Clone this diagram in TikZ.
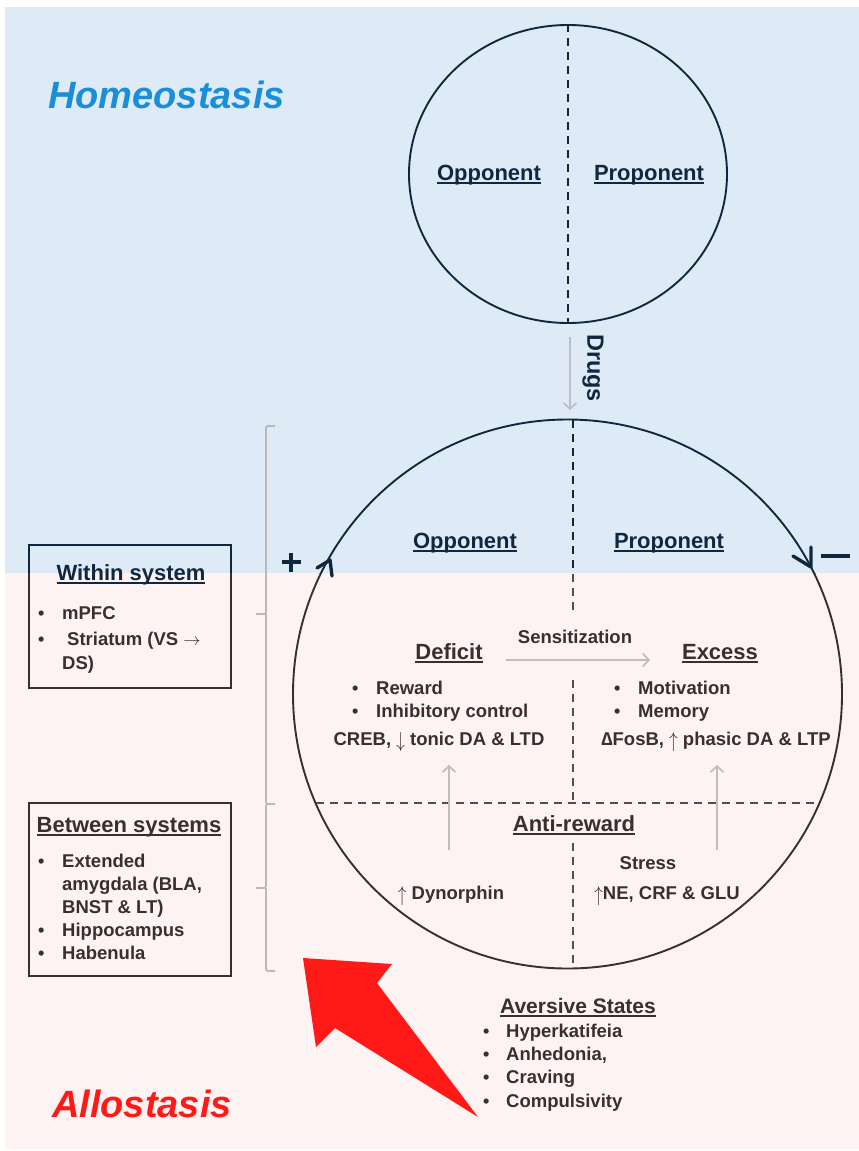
\documentclass[tikz,border=0pt]{standalone}
\usepackage{fontspec}
\setmainfont{Liberation Sans}
\usetikzlibrary{arrows.meta,shapes.geometric}
\definecolor{navy}{HTML}{10283F}
\definecolor{brn}{HTML}{3A2E2E}
\definecolor{dashbrn}{HTML}{5B4A45}
\definecolor{bgblue}{HTML}{DEEBF7}
\definecolor{bgpink}{HTML}{FCF3F2}
\definecolor{garrow}{HTML}{BFBDBD}
\definecolor{gbrace}{HTML}{BDB7B6}
\definecolor{homeblue}{HTML}{1A8ED6}
\definecolor{allored}{HTML}{FF1A17}
\newcommand{\myul}[1]{\setbox0\hbox{#1}\rlap{\rule[-0.19em]{\wd0}{0.085em}}\box0}
\newcommand{\upar}{\raisebox{-0.12em}{\scalebox{1}[1.25]{$\uparrow$}}}
\newcommand{\dnar}{\raisebox{-0.12em}{\scalebox{1}[1.25]{$\downarrow$}}}
\tikzset{
  bigtitle/.style={font=\fontsize{38}{44}\selectfont\bfseries\itshape, inner sep=0pt, anchor=base west},
  hdr/.style={font=\fontsize{22}{26}\selectfont\bfseries, inner sep=0pt, anchor=base},
  bod/.style={font=\fontsize{18.5}{22}\selectfont\bfseries, inner sep=0pt, anchor=base west},
  bodc/.style={font=\fontsize{18.5}{22}\selectfont\bfseries, inner sep=0pt, anchor=base},
  bul/.style={font=\fontsize{18}{20}\selectfont\bfseries, inner sep=0pt, anchor=base west},
  ringline/.style={line width=1.9pt},
  divdash/.style={line width=1.8pt, dash pattern=on 8pt off 6pt},
  grayarrow/.style={draw=garrow, line width=1.7pt, -{Straight Barb[length=6pt,width=13pt,line width=1.7pt]}},
  brace/.style={draw=gbrace, line width=1.8pt, rounded corners=2pt},
  tipmark/.style={line width=3.4pt, line cap=round, line join=round},
  infobox/.style={line width=2pt},
  signbar/.style={navy, line width=4.2pt}
}
\begin{document}
\begin{tikzpicture}[x=1pt,y=-1pt]
\useasboundingbox (0,0) rectangle (859,1151);
% backgrounds
\fill[bgblue] (5,7) rectangle (859,573);
\fill[bgpink] (5,573) rectangle (859,1149);

% titles
\node[bigtitle, text=homeblue] (homeo) at (48,108.5) {Homeostasis};
\node[bigtitle, text=allored] (allo) at (52,1117) {Allostasis};

% top circle
\node[draw=navy, ringline, ellipse, minimum width=318pt, minimum height=298pt, inner sep=0pt] (topc) at (568,174) {};
\draw[navy, divdash] (topc.north) -- (topc.south);
\node[hdr, text=navy] (topopp) at (489,180) {\myul{Opponent}};
\node[hdr, text=navy] (toppro) at (649,180) {\myul{Proponent}};

% drugs
\coordinate (drugsA) at (570,337);
\coordinate (drugsB) at (570,410);
\draw[grayarrow] (drugsA) -- (drugsB);
\node[font=\fontsize{23.5}{26}\selectfont\bfseries, text=navy, rotate=-90, inner sep=0pt] (drugs) at (593,368) {Drugs};

% big circle
\node[circle, minimum size=549pt, inner sep=0pt] (bigc) at (567.5,694) {};
\begin{scope}
  \clip (0,0) rectangle (859,573);
  \draw[navy, ringline] (bigc.center) circle[radius=274.5];
\end{scope}
\begin{scope}
  \clip (0,573) rectangle (859,1151);
  \draw[brn, ringline] (bigc.center) circle[radius=274.5];
\end{scope}

% arrow marks on the circle
\coordinate (lw1) at (317,568);
\coordinate (ltip) at (330,560);
\coordinate (lw2) at (332,576);
\draw[navy, tipmark] (lw1) -- (ltip) -- (lw2);
\coordinate (rw1) at (793,556);
\coordinate (rtip) at (811,567);
\coordinate (rw2) at (811,547);
\draw[navy, tipmark] (rw1) -- (rtip) -- (rw2);
% plus and minus signs
\coordinate (plusC) at (291,562);
\draw[signbar] ([xshift=-9.5pt]plusC) -- ([xshift=9.5pt]plusC);
\draw[signbar] ([yshift=-9.5pt]plusC) -- ([yshift=9.5pt]plusC);
\coordinate (minusA) at (821,556);
\coordinate (minusB) at (850,556);
\draw[signbar] (minusA) -- (minusB);

% dashed dividers in big circle
\coordinate (d1) at (573,420);
\coordinate (d2) at (573,613);
\coordinate (d3) at (573,680);
\coordinate (d4) at (573,803);
\coordinate (d5) at (573,843);
\coordinate (d6) at (573,968);
\begin{scope}
  \clip (0,0) rectangle (859,573);
  \draw[navy, divdash] (d1) -- (d2);
\end{scope}
\begin{scope}
  \clip (0,573) rectangle (859,1151);
  \draw[dashbrn, divdash] (d1) -- (d2);
\end{scope}
\draw[dashbrn, divdash] (d3) -- (d4);
\draw[dashbrn, divdash] (d5) -- (d6);
\coordinate (h1) at (316,803);
\coordinate (h2) at (819,803);
\draw[dashbrn, divdash] (h1) -- (h2);

% big circle texts
\node[hdr, text=navy] (opp) at (465,548) {\myul{Opponent}};
\node[hdr, text=navy] (pro) at (669,548) {\myul{Proponent}};
\node[hdr, text=brn] (deficit) at (449,659) {\myul{Deficit}};
\node[hdr, text=brn] (excess) at (720,659) {\myul{Excess}};
\node[bodc, text=brn] (sens) at (575,643) {Sensitization};
\coordinate (sensA) at (506,660);
\coordinate (sensB) at (650,660);
\draw[grayarrow] (sensA) -- (sensB);

\node[bul, text=brn] (b1) at (352,694) {•};
\node[bod, text=brn] (reward) at (376,694) {Reward};
\node[bul, text=brn] (b2) at (352,717) {•};
\node[bod, text=brn] (inhib) at (376,717) {Inhibitory control};
\node[bodc, text=brn] (creb) at (439,745) {CREB, \dnar{} tonic DA \& LTD};

\node[bul, text=brn] (b3) at (614,694) {•};
\node[bod, text=brn] (motiv) at (638,694) {Motivation};
\node[bul, text=brn] (b4) at (614,717) {•};
\node[bod, text=brn] (memory) at (638,717) {Memory};
\node[bodc, text=brn] (fosb) at (716,745) {∆FosB, \upar{} phasic DA \& LTP};

\coordinate (uaA) at (449,850);
\coordinate (uaB) at (449,765);
\draw[grayarrow] (uaA) -- (uaB);
\coordinate (ubA) at (717,850);
\coordinate (ubB) at (717,765);
\draw[grayarrow] (ubA) -- (ubB);

\node[hdr, text=brn] (anti) at (574,831) {\myul{Anti-reward}};
\node[bodc, text=brn] (stress) at (648,869) {Stress};
\node[bodc, text=brn] (dyn) at (451,899) {\upar{} Dynorphin};
\node[bodc, text=brn] (ne) at (667,899) {\upar{}NE, CRF \& GLU};

% braces
\draw[brace] (275,426) -- (266,426) -- (266,614) coordinate (br1mid) -- (256,614);
\draw[brace] (br1mid) -- (266,804) -- (275,804);
\draw[brace] (275,804) -- (266,804) -- (266,888) coordinate (br2mid) -- (256,888);
\draw[brace] (br2mid) -- (266,971) -- (275,971);

% within system box
\coordinate (wb1) at (29,545);
\coordinate (wb2) at (231,688);
\begin{scope}
  \clip (0,0) rectangle (859,573);
  \draw[navy, infobox] (wb1) rectangle (wb2);
\end{scope}
\begin{scope}
  \clip (0,573) rectangle (859,1151);
  \draw[brn, infobox] (wb1) rectangle (wb2);
\end{scope}
\node[hdr, text=navy] (within) at (131,580) {\myul{Within system}};
\node[bul, text=brn] (b5) at (38,619) {•};
\node[bod, text=brn] (mpfc) at (62,619) {mPFC};
\node[bul, text=brn] (b6) at (38,645) {•};
\node[bod, text=brn] (stri) at (67,645) {Striatum (VS $\rightarrow$};
\node[bod, text=brn] (ds) at (62,669) {DS)};

% between systems box
\draw[brn, infobox] (29,803) rectangle (231,976);
\node[hdr, text=brn] (between) at (129,832) {\myul{Between systems}};
\node[bul, text=brn] (b7) at (38,867) {•};
\node[bod, text=brn] (ext) at (62,867) {Extended};
\node[bod, text=brn] (amyg) at (62,890) {amygdala (BLA,};
\node[bod, text=brn] (bnst) at (62,913) {BNST \& LT)};
\node[bul, text=brn] (b8) at (38,936) {•};
\node[bod, text=brn] (hippo) at (62,936) {Hippocampus};
\node[bul, text=brn] (b9) at (38,959) {•};
\node[bod, text=brn] (haben) at (62,959) {Habenula};

% red arrow
\fill[allored] (303,958) -- (392,964) -- (377,983) -- (478,1117) -- (335,1028) -- (316,1047) -- cycle;

% aversive states
\node[font=\fontsize{21}{25}\selectfont\bfseries, text=brn, inner sep=0pt, anchor=base] (avers) at (578,1013) {\myul{Aversive States}};
\node[bul, text=brn] (b10) at (483,1037) {•};
\node[bod, text=brn] (hyper) at (506,1037) {Hyperkatifeia};
\node[bul, text=brn] (b11) at (483,1060) {•};
\node[bod, text=brn] (anhed) at (506,1060) {Anhedonia,};
\node[bul, text=brn] (b12) at (483,1083) {•};
\node[bod, text=brn] (crav) at (506,1083) {Craving};
\node[bul, text=brn] (b13) at (483,1107) {•};
\node[bod, text=brn] (comp) at (506,1107) {Compulsivity};
\end{tikzpicture}
\end{document}
